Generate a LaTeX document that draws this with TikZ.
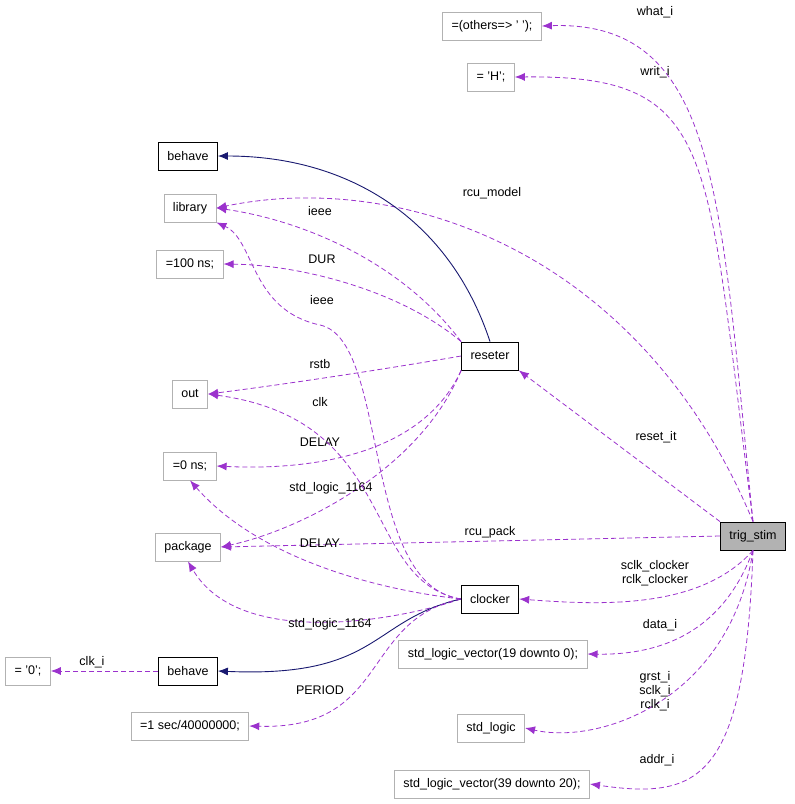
\documentclass[tikz,border=0pt]{standalone}
\usepackage{fontspec}
\setmainfont{Liberation Sans}
\usetikzlibrary{arrows.meta}
\definecolor{edgepurple}{RGB}{155,50,205}
\definecolor{edgenavy}{RGB}{25,25,112}
\tikzset{
  box/.style={draw=black!30,fill=white,minimum height=28pt,inner xsep=9pt,line width=0.8pt,font=\fontsize{12.5}{14}\selectfont},
  mainbox/.style={box,draw=black},
  use/.style={draw=edgepurple,line width=0.8pt,dash pattern=on 5pt off 3pt,-{Latex[length=10pt,width=8pt]}},
  inherit/.style={draw=edgenavy,line width=0.9pt,-{Latex[length=10pt,width=8pt]}},
  lab/.style={font=\fontsize{12.5}{14}\selectfont,align=center,inner sep=1pt}
}
\begin{document}
\begin{tikzpicture}[x=1pt,y=-1pt]
\useasboundingbox (0,0) rectangle (795,804);
% nodes
\node[box] (what) at (492,26) {=(others=> ' ');};
\node[box] (writ) at (491,77) {= 'H';};
\node[mainbox] (behtop) at (188,156) {behave};
\node[box] (lib) at (190,208) {library};
\node[box] (dur) at (190,264) {=100 ns;};
\node[mainbox] (reseter) at (490,356) {reseter};
\node[box] (out) at (190,394) {out};
\node[box] (zero) at (190,466) {=0 ns;};
\node[box] (pkg) at (188,547) {package};
\node[mainbox,fill=black!30] (trig) at (753,536) {trig\_stim};
\node[mainbox] (clocker) at (490,599) {clocker};
\node[box] (slvlo) at (493,654) {std\_logic\_vector(19 downto 0);};
\node[mainbox] (behbot) at (188,671) {behave};
\node[box] (zeroc) at (28,671) {= '0';};
\node[box] (period) at (190,726) {=1 sec/40000000;};
\node[box] (stdl) at (491,728) {std\_logic};
\node[box] (slvhi) at (492,784) {std\_logic\_vector(39 downto 20);};
% trig_stim uses
\draw[use] (trig.north) .. controls (720,200) and (720,20) .. (what.east) node[lab,at={(655,12)}] {what\_i};
\draw[use] (trig.north) .. controls (705,150) and (720,75) .. (writ.east) node[lab,at={(655,72)}] {writ\_i};
\draw[use] (trig.north) .. controls (640,250) and (400,170) .. (lib.east) node[lab,at={(492,193)}] {rcu\_model};
\draw[use] (trig.north west) -- (reseter.south east) node[lab,at={(656,437)}] {reset\_it};
\draw[use] (trig.west) -- (pkg.east) node[lab,at={(490,532)}] {rcu\_pack};
\draw[use] (trig.south) .. controls (700,610) and (600,605) .. (clocker.east) node[lab,at={(655,573)}] {sclk\_clocker\\rclk\_clocker};
\draw[use] (trig.south) .. controls (720,640) and (650,655) .. (slvlo.east) node[lab,at={(660,625)}] {data\_i};
\draw[use] (trig.south) .. controls (730,700) and (600,745) .. (stdl.east) node[lab,at={(655,691)}] {grst\_i\\sclk\_i\\rclk\_i};
\draw[use] (trig.south) .. controls (745,780) and (700,800) .. (slvhi.east) node[lab,at={(657,760)}] {addr\_i};
% reseter
\draw[inherit] (reseter.north) .. controls (450,220) and (350,156) .. (behtop.east);
\draw[use] (reseter.north west) .. controls (400,260) and (300,220) .. (lib.east) node[lab,at={(320,211)}] {ieee};
\draw[use] (reseter.north west) .. controls (400,290) and (300,265) .. (dur.east) node[lab,at={(322,259)}] {DUR};
\draw[use] (reseter.west) .. controls (380,370) and (280,385) .. (out.east) node[lab,at={(320,364)}] {rstb};
\draw[use] (reseter.south west) .. controls (420,460) and (300,470) .. (zero.east) node[lab,at={(320,442)}] {DELAY};
\draw[use] (reseter.south west) .. controls (420,470) and (300,530) .. (pkg.east) node[lab,at={(331,488)}] {std\_logic\_1164};
% clocker
\draw[use] (clocker.west) .. controls (360,585) and (390,340) .. (320,325) .. controls (250,310) and (255,240) .. (lib.south east) node[lab,at={(322,300)}] {ieee};
\draw[use] (clocker.west) .. controls (360,580) and (400,420) .. (out.east) node[lab,at={(320,402)}] {clk};
\draw[use] (clocker.west) .. controls (380,590) and (260,560) .. (zero.south) node[lab,at={(320,543)}] {DELAY};
\draw[use] (clocker.west) .. controls (400,620) and (240,650) .. (pkg.south) node[lab,at={(330,624)}] {std\_logic\_1164};
\draw[inherit] (clocker.west) .. controls (370,620) and (380,678) .. (behbot.east);
\draw[use] (clocker.west) .. controls (360,620) and (390,730) .. (period.east) node[lab,at={(320,690)}] {PERIOD};
\draw[use] (behbot.west) -- (zeroc.east) node[lab,at={(92,662)}] {clk\_i};
\end{tikzpicture}
\end{document}
